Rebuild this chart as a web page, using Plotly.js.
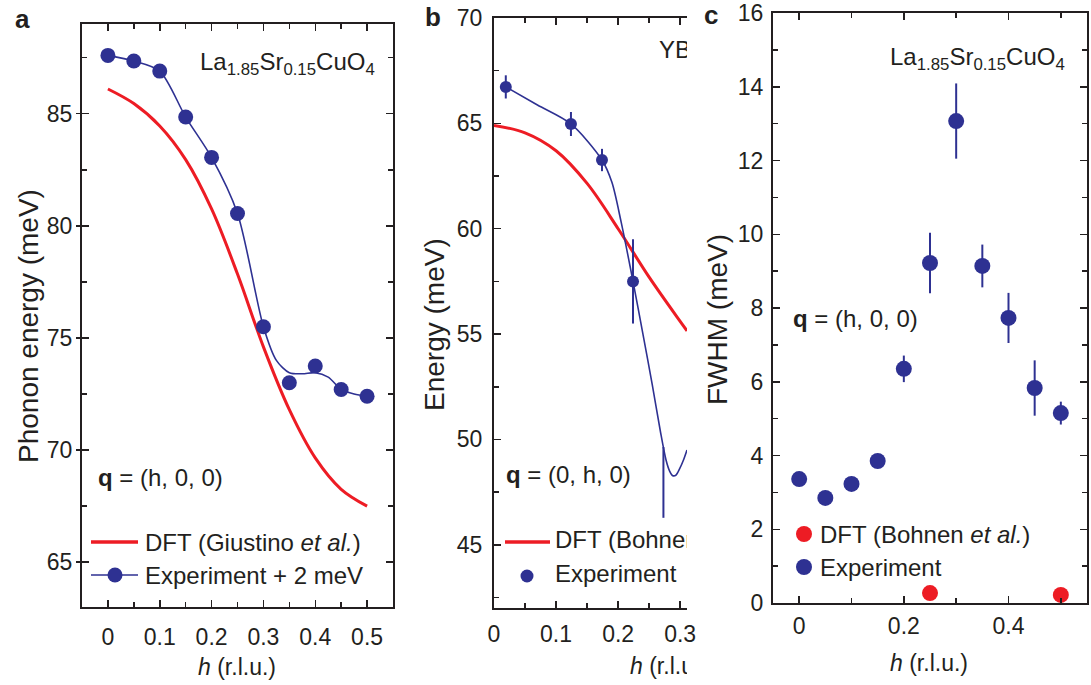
<!DOCTYPE html>
<html><head><meta charset="utf-8">
<script src="https://cdn.plot.ly/plotly-3.0.1.min.js"></script>
<style>html,body{margin:0;padding:0;background:#fff}#chart{width:1091px;height:685px}</style>
</head><body><div id="chart"></div>
<script>
// ---------- Panel a : La1.85Sr0.15CuO4, q=(h,0,0) ----------
const aH     = [0, 0.05, 0.1, 0.15, 0.2, 0.25, 0.3, 0.35, 0.4, 0.45, 0.5];
const aExp   = [87.6, 87.35, 86.9, 84.85, 83.05, 80.55, 75.5, 73.0, 73.75, 72.7, 72.4];
const aFitH  = [0, 0.05, 0.1, 0.15, 0.2, 0.25, 0.3, 0.325, 0.35, 0.375, 0.4, 0.425, 0.45, 0.475, 0.5];
const aFitE  = [87.6, 87.35, 86.9, 84.85, 83.05, 80.55, 75.5, 74.0, 73.45, 73.4, 73.45, 73.25, 72.7, 72.5, 72.4];
const aDftH  = [0, 0.05, 0.1, 0.15, 0.2, 0.25, 0.3, 0.35, 0.4, 0.45, 0.5];
const aDftE  = [86.1, 85.45, 84.45, 82.95, 80.75, 77.85, 74.6, 71.8, 69.65, 68.25, 67.5];

// ---------- Panel b : YBa2Cu3O6.6, q=(0,h,0) ----------
const bH     = [0.019, 0.124, 0.174, 0.224];
const bExp   = [66.73, 64.97, 63.26, 57.5];
const bErr   = [0.55, 0.57, 0.53, 2.0];
const bBarH  = [0.273];          // point shown by its error bar only
const bBarE  = [47.96];
const bBarErr = [1.68];
const bFitH  = [0.019, 0.07, 0.124, 0.174, 0.19, 0.205, 0.224, 0.24, 0.255, 0.268, 0.277, 0.283, 0.288, 0.293, 0.299, 0.305, 0.311];
const bFitE  = [66.73, 65.87, 64.97, 63.26, 62.2, 60.3, 57.5, 55.0, 52.6, 50.4, 49.05, 48.5, 48.28, 48.3, 48.6, 49.0, 49.5];
const bDftH  = [0, 0.05, 0.1, 0.15, 0.2, 0.25, 0.3, 0.311];
const bDftE  = [64.9, 64.55, 63.7, 62.15, 60.0, 57.7, 55.6, 55.15];

// ---------- Panel c : FWHM ----------
const cH     = [0, 0.05, 0.1, 0.15, 0.2, 0.25, 0.3, 0.35, 0.4, 0.45, 0.5];
const cFwhm  = [3.36, 2.85, 3.23, 3.85, 6.35, 9.22, 13.07, 9.14, 7.73, 5.83, 5.15];
const cErr   = [0, 0, 0, 0, 0.36, 0.82, 1.02, 0.58, 0.68, 0.75, 0.31];
const cDftH  = [0.25, 0.5];
const cDftF  = [0.27, 0.22];

// ---------- labels ----------
const formula  = 'La<sub>1.85</sub>Sr<sub>0.15</sub>CuO<sub>4</sub>';
const formulaB = 'YBa<sub>2</sub>Cu<sub>3</sub>O<sub>6.6</sub>';
const qA = '<b>q</b> = (h, 0, 0)';
const qB = '<b>q</b> = (0, h, 0)';
const legA = ['DFT (Giustino <i>et al.</i>)', 'Experiment + 2 meV'];
const legB = ['DFT (Bohnen <i>et al.</i>)', 'Experiment'];
const legC = ['DFT (Bohnen <i>et al.</i>)', 'Experiment'];
const xTitle = '<i>h</i> (r.l.u.)';

// ---------- geometry (pixels) ----------
const W = 1091, H = 685;
const PA = {x0: 82,  x1: 393,  y0: 24, y1: 607, xr: [-0.05, 0.55], yr: [63, 89]};
const PB = {x0: 494, x1: 687,  y0: 18, y1: 608, xr: [0, 0.311],    yr: [42, 70]};
const PC = {x0: 773, x1: 1087, y0: 13, y1: 603, xr: [-0.05, 0.55], yr: [0, 16]};
const PT = {x0: 494, x1: 687,  y0: 640, y1: 685, xr: [0, 1], yr: [0, 1]};
const dx = (P, px) => P.xr[0] + (px - P.x0) / (P.x1 - P.x0) * (P.xr[1] - P.xr[0]);
const dy = (P, py) => P.yr[0] + (P.y1 - py) / (P.y1 - P.y0) * (P.yr[1] - P.yr[0]);
const fx = p => p / W, fy = p => 1 - p / H;

const BLUE = '#2e3192', RED = '#ed1c24', INK = '#231f20';
const FONT = 'Liberation Sans, Arial, Helvetica, sans-serif';

const traces = [
  // panel a
  {x: aDftH, y: aDftE, xaxis: 'x', yaxis: 'y', mode: 'lines', line: {color: RED, width: 3, shape: 'spline'}, hoverinfo: 'skip'},
  {x: aFitH, y: aFitE, xaxis: 'x', yaxis: 'y', mode: 'lines', line: {color: BLUE, width: 1.6, shape: 'spline', smoothing: 0.8}, hoverinfo: 'skip'},
  {x: aH, y: aExp, xaxis: 'x', yaxis: 'y', mode: 'markers', marker: {color: BLUE, size: 15, opacity: 1}},
  // panel a legend keys
  {x: [dx(PA, 91), dx(PA, 138)], y: [dy(PA, 542), dy(PA, 542)], xaxis: 'x', yaxis: 'y', mode: 'lines', line: {color: RED, width: 3.5}, hoverinfo: 'skip'},
  {x: [dx(PA, 91), dx(PA, 138)], y: [dy(PA, 575), dy(PA, 575)], xaxis: 'x', yaxis: 'y', mode: 'lines', line: {color: BLUE, width: 1.6}, hoverinfo: 'skip'},
  {x: [dx(PA, 115)], y: [dy(PA, 575)], xaxis: 'x', yaxis: 'y', mode: 'markers', marker: {color: BLUE, size: 15, opacity: 1}, hoverinfo: 'skip'},
  // dummy for crossing tick axis
  {x: [aH[0]], y: [aExp[0]], xaxis: 'x', yaxis: 'y4', mode: 'markers', marker: {opacity: 0}, hoverinfo: 'skip'},

  // panel b
  {x: bDftH, y: bDftE, xaxis: 'x2', yaxis: 'y2', mode: 'lines', line: {color: RED, width: 3, shape: 'spline'}, cliponaxis: true, hoverinfo: 'skip'},
  {x: bFitH, y: bFitE, xaxis: 'x2', yaxis: 'y2', mode: 'lines', line: {color: BLUE, width: 1.6, shape: 'spline', smoothing: 0.8}, cliponaxis: true, hoverinfo: 'skip'},
  {x: bH, y: bExp, xaxis: 'x2', yaxis: 'y2', mode: 'markers', marker: {color: BLUE, size: 12, opacity: 1},
   error_y: {type: 'data', array: bErr, visible: true, color: BLUE, thickness: 2, width: 0}},
  {x: bBarH, y: bBarE, xaxis: 'x2', yaxis: 'y2', mode: 'markers', marker: {color: BLUE, size: 1, opacity: 0},
   error_y: {type: 'data', array: bBarErr, visible: true, color: BLUE, thickness: 2, width: 0}},
  // panel b legend keys + clipped texts
  {x: [dx(PB, 505), dx(PB, 550)], y: [dy(PB, 542), dy(PB, 542)], xaxis: 'x2', yaxis: 'y2', mode: 'lines', line: {color: RED, width: 3.5}, hoverinfo: 'skip'},
  {x: [dx(PB, 527)], y: [dy(PB, 576)], xaxis: 'x2', yaxis: 'y2', mode: 'markers', marker: {color: BLUE, size: 13, opacity: 1}, hoverinfo: 'skip'},
  {x: [dx(PB, 659), dx(PB, 506), dx(PB, 555), dx(PB, 555)],
   y: [dy(PB, 52), dy(PB, 477), dy(PB, 542), dy(PB, 576)],
   text: [formulaB, qB, legB[0], legB[1]], xaxis: 'x2', yaxis: 'y2', mode: 'text', textposition: 'middle right',
   textfont: {family: FONT, size: 24, color: INK}, cliponaxis: true, hoverinfo: 'skip'},
  // panel b clipped x title
  {x: [dx(PT, 630)], y: [dy(PT, 668)], text: [xTitle], xaxis: 'x5', yaxis: 'y5', mode: 'text', textposition: 'middle right',
   textfont: {family: FONT, size: 23, color: INK}, cliponaxis: true, hoverinfo: 'skip'},

  // panel c
  {x: cH, y: cFwhm, xaxis: 'x3', yaxis: 'y3', mode: 'markers', marker: {color: BLUE, size: 16, opacity: 1},
   error_y: {type: 'data', array: cErr, visible: true, color: BLUE, thickness: 2, width: 0}},
  {x: cDftH, y: cDftF, xaxis: 'x3', yaxis: 'y3', mode: 'markers', marker: {color: RED, size: 16, opacity: 1}, cliponaxis: false},
  {x: [dx(PC, 804)], y: [dy(PC, 534)], xaxis: 'x3', yaxis: 'y3', mode: 'markers', marker: {color: RED, size: 16, opacity: 1}, hoverinfo: 'skip'},
  {x: [dx(PC, 804)], y: [dy(PC, 567)], xaxis: 'x3', yaxis: 'y3', mode: 'markers', marker: {color: BLUE, size: 16, opacity: 1}, hoverinfo: 'skip'}
];

const tickFont = {family: FONT, size: 23, color: INK};
function ax(P, isX, extra) {
  const base = {
    domain: isX ? [fx(P.x0), fx(P.x1)] : [fy(P.y1), fy(P.y0)],
    range: isX ? P.xr : P.yr,
    showline: true, linewidth: 2, linecolor: INK,
    ticks: 'inside', ticklen: 7, tickwidth: 1.5, tickcolor: INK,
    showgrid: false, zeroline: false, tickfont: tickFont,
    mirror: 'ticks', fixedrange: true
  };
  return Object.assign(base, extra);
}

const layout = {
  width: W, height: H,
  margin: {l: 0, r: 0, t: 0, b: 0},
  paper_bgcolor: '#fff', plot_bgcolor: 'rgba(0,0,0,0)',
  showlegend: false,
  font: {family: FONT, color: INK},
  xaxis:  ax(PA, true,  {anchor: 'y',  tick0: 0, dtick: 0.1, minor: {dtick: 0.05, ticklen: 5, ticks: 'inside', tickcolor: INK}, ticklabelstandoff: 8}),
  yaxis:  ax(PA, false, {anchor: 'x',  tick0: 65, dtick: 5, minor: {dtick: 2.5, ticklen: 5, ticks: 'inside', tickcolor: INK}, ticklabelstandoff: 3}),
  yaxis4: {overlaying: 'y', anchor: 'x', side: 'left', range: PA.yr, tick0: 65, dtick: 5, ticks: 'outside', ticklen: 5, tickwidth: 1.5, tickcolor: INK,
           showticklabels: false, showline: false, showgrid: false, zeroline: false, fixedrange: true},
  xaxis2: ax(PB, true,  {anchor: 'y2', tick0: 0, dtick: 0.1, minor: {dtick: 0.05, ticklen: 5, ticks: 'inside', tickcolor: INK}, ticklabelstandoff: 4}),
  yaxis2: ax(PB, false, {anchor: 'x2', tick0: 45, dtick: 5, mirror: false, minor: {dtick: 2.5, ticklen: 5, ticks: 'inside', tickcolor: INK}, ticklabelstandoff: 5}),
  xaxis3: ax(PC, true,  {anchor: 'y3', tick0: 0, dtick: 0.2, minor: {dtick: 0.1, ticklen: 5, ticks: 'inside', tickcolor: INK}, ticklabelstandoff: 1}),
  yaxis3: ax(PC, false, {anchor: 'x3', tick0: 0, dtick: 2, minor: {dtick: 1, ticklen: 5, ticks: 'inside', tickcolor: INK}, ticklabelstandoff: 3}),
  xaxis5: {domain: [fx(PT.x0), fx(PT.x1)], range: PT.xr, anchor: 'y5', showline: false, showticklabels: false, ticks: '', showgrid: false, zeroline: false, fixedrange: true},
  yaxis5: {domain: [fy(PT.y1), fy(PT.y0)], range: PT.yr, anchor: 'x5', showline: false, showticklabels: false, ticks: '', showgrid: false, zeroline: false, fixedrange: true},
  annotations: []
};

function note(text, px, py, opts) {
  layout.annotations.push(Object.assign({
    text: text, x: fx(px), y: fy(py), xref: 'paper', yref: 'paper',
    showarrow: false, xanchor: 'left', yanchor: 'middle',
    font: {family: FONT, size: 24, color: INK}
  }, opts || {}));
}
// panel letters
note('<b>a</b>', 22, 19, {xanchor: 'center', font: {family: FONT, size: 26, color: INK}});
note('<b>b</b>', 433, 17, {xanchor: 'center', font: {family: FONT, size: 26, color: INK}});
note('<b>c</b>', 711, 15, {xanchor: 'center', font: {family: FONT, size: 26, color: INK}});
// panel a
note(formula, 198, 63);
note(qA, 96, 477);
note(legA[0], 143, 542);
note(legA[1], 143, 575);
note('Phonon energy (meV)', 28, 326, {xanchor: 'center', textangle: -90, font: {family: FONT, size: 28, color: INK}});
note(xTitle, 237, 667, {xanchor: 'center', font: {family: FONT, size: 23, color: INK}});
// panel b
note('Energy (meV)', 434, 325, {xanchor: 'center', textangle: -90, font: {family: FONT, size: 28, color: INK}});
// panel c
note(formula, 888, 58);
note(qA, 791, 318);
note(legC[0], 818, 534);
note(legC[1], 818, 567);
note('FWHM (meV)', 717, 320, {xanchor: 'center', textangle: -90, font: {family: FONT, size: 28, color: INK}});
note(xTitle, 929, 663, {xanchor: 'center', font: {family: FONT, size: 23, color: INK}});

Plotly.newPlot('chart', traces, layout, {staticPlot: true, displayModeBar: false});
</script>
</body></html>
